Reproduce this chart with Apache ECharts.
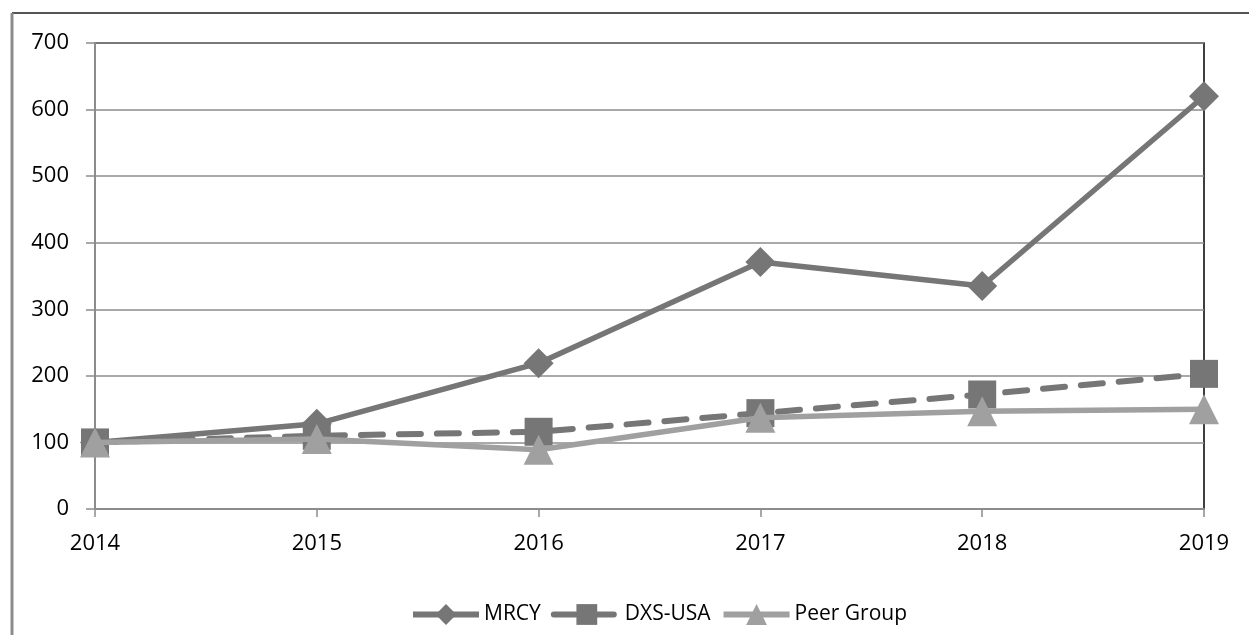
<!DOCTYPE html>
<html><head><meta charset="utf-8">
<script src="https://cdn.jsdelivr.net/npm/echarts@6/dist/echarts.min.js"></script>
<style>html,body{margin:0;padding:0;background:#fff}#c{width:1249px;height:635px}</style>
</head><body><div id="c"></div>
<script>
const years = ['2014','2015','2016','2017','2018','2019'];
const mrcy = [100, 128, 219, 371, 335, 620];
const dxs = [100, 110, 116, 144, 172, 203];
const peer = [100, 105, 89, 137, 147, 150];
const yTicks = [0, 100, 200, 300, 400, 500, 600, 700];

const chart = echarts.init(document.getElementById('c'), null, {renderer: 'canvas'});
const font = '"Open Sans", "Noto Sans", sans-serif';
chart.setOption({
  animation: false,
  textStyle: {fontFamily: font},
  graphic: [
    {type: 'line', shape: {x1: 12, y1: 13, x2: 1249, y2: 13}, style: {stroke: '#555', lineWidth: 2}},
    {type: 'line', shape: {x1: 12, y1: 13, x2: 12, y2: 635}, style: {stroke: '#8c8c8c', lineWidth: 3}}
  ],
  grid: {left: 95, right: 45, top: 43, bottom: 126, show: true, borderColor: '#000', borderWidth: 1.5, containLabel: false},
  legend: {
    bottom: 5, left: 405, itemWidth: 66, itemHeight: 26, itemGap: 10,
    textStyle: {fontSize: 21, color: '#000', fontFamily: font},
    lineStyle: {width: 6},
    data: ['MRCY', 'DXS-USA', 'Peer Group']
  },
  xAxis: {
    type: 'category', data: years, boundaryGap: false,
    axisLine: {lineStyle: {color: '#8c8c8c', width: 2}},
    axisTick: {show: true, length: 8, inside: false, lineStyle: {color: '#8c8c8c', width: 1.5}},
    axisLabel: {fontSize: 22, color: '#000', margin: 24, fontFamily: font},
    splitLine: {show: false}
  },
  yAxis: {
    type: 'value', min: 0, max: 700, interval: 100,
    axisLine: {show: true, lineStyle: {color: '#8c8c8c', width: 2}},
    axisTick: {show: true, length: 9, lineStyle: {color: '#8c8c8c', width: 1.5}},
    axisLabel: {fontSize: 22, color: '#000', margin: 26, fontFamily: font,
      formatter: v => yTicks.includes(v) ? String(v) : ''},
    splitLine: {show: true, lineStyle: {color: '#8c8c8c', width: 1.5}}
  },
  series: [
    {name: 'MRCY', type: 'line', data: mrcy, symbol: 'diamond', symbolSize: 30, z: 3,
      lineStyle: {color: '#767676', width: 5.5}, itemStyle: {color: '#767676'}},
    {name: 'DXS-USA', type: 'line', data: dxs, symbol: 'rect', symbolSize: 28, z: 4,
      lineStyle: {color: '#767676', width: 6, type: [22, 16], cap: 'round'}, itemStyle: {color: '#767676'}},
    {name: 'Peer Group', type: 'line', data: peer, symbol: 'triangle', symbolSize: 30, z: 5,
      lineStyle: {color: '#a0a0a0', width: 5.5}, itemStyle: {color: '#a0a0a0'}}
  ]
});
</script></body></html>
